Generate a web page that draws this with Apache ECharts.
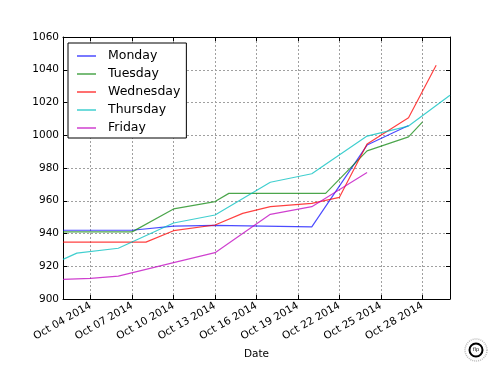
<!DOCTYPE html>
<html>
<head>
<meta charset="utf-8">
<script src="https://cdn.jsdelivr.net/npm/echarts@6/dist/echarts.min.js"></script>
<style>
html,body{margin:0;padding:0;background:#fff;}
#chart{width:500px;height:375px;}
</style>
</head>
<body>
<div id="chart"></div>
<script>
// Series names
const seriesNames = ['Monday', 'Tuesday', 'Wednesday', 'Thursday', 'Friday'];

// Dates and values per series
const mondayDates = ['2014-10-02', '2014-10-07', '2014-10-10', '2014-10-13', '2014-10-20', '2014-10-24', '2014-10-27'];
const mondayValues = [942, 942, 944.5, 945, 944, 994, 1006];

const tuesdayDates = ['2014-10-02', '2014-10-07', '2014-10-10', '2014-10-13', '2014-10-14', '2014-10-21', '2014-10-24', '2014-10-27', '2014-10-28'];
const tuesdayValues = [941, 941, 955, 959.5, 964.5, 964.5, 990.5, 999, 1008];

const wednesdayDates = ['2014-10-02', '2014-10-08', '2014-10-10', '2014-10-13', '2014-10-15', '2014-10-17', '2014-10-20', '2014-10-22', '2014-10-24', '2014-10-27', '2014-10-29'];
const wednesdayValues = [934.7, 934.7, 941.7, 945.2, 952.3, 956.4, 958.4, 962.1, 994.7, 1010.7, 1042.7];

const thursdayDates = ['2014-10-02', '2014-10-03', '2014-10-06', '2014-10-10', '2014-10-13', '2014-10-17', '2014-10-20', '2014-10-24', '2014-10-27', '2014-10-30'];
const thursdayValues = [924.2, 928, 931, 946.4, 951.3, 971.3, 976.5, 999.5, 1005.6, 1024.4];

const fridayDates = ['2014-10-02', '2014-10-04', '2014-10-06', '2014-10-10', '2014-10-13', '2014-10-17', '2014-10-20', '2014-10-24'];
const fridayValues = [912, 912.6, 914, 922.2, 928.3, 951.7, 956.4, 977.2];

// Tick labels (dates)
const xTickDates = ['2014-10-04', '2014-10-07', '2014-10-10', '2014-10-13', '2014-10-16', '2014-10-19', '2014-10-22', '2014-10-25', '2014-10-28'];
const xRange = ['2014-10-02', '2014-10-30'];

const seriesColors = ['rgba(0,0,255,0.7)', 'rgba(0,128,0,0.7)', 'rgba(255,0,0,0.75)', 'rgba(0,191,191,0.75)', 'rgba(191,0,191,0.75)'];

const MONTHS = ['Jan','Feb','Mar','Apr','May','Jun','Jul','Aug','Sep','Oct','Nov','Dec'];
const DAY_MS = 86400000;
const BASE = Date.UTC(2014, 9, 1);
function toDay(s) {
  const p = s.split('-').map(Number);
  return (Date.UTC(p[0], p[1] - 1, p[2]) - BASE) / DAY_MS + 1;
}
function fmtDay(v) {
  const d = new Date(BASE + (v - 1) * DAY_MS);
  const dd = String(d.getUTCDate()).padStart(2, '0');
  return MONTHS[d.getUTCMonth()] + ' ' + dd + ' ' + d.getUTCFullYear();
}

const allDates = [mondayDates, tuesdayDates, wednesdayDates, thursdayDates, fridayDates];
const allValues = [mondayValues, tuesdayValues, wednesdayValues, thursdayValues, fridayValues];
const xTicks = xTickDates.map(toDay);

const FONT = 'DejaVu Sans';
const gridStyle = { show: true, lineStyle: { color: '#a0a0a0', type: [2, 2], width: 1 } };

const chart = echarts.init(document.getElementById('chart'), null, { renderer: 'canvas' });
chart.setOption({
  animation: false,
  backgroundColor: '#fff',
  grid: { left: 63, right: 50, top: 37, bottom: 76 },
  legend: {
    orient: 'vertical',
    left: 68, top: 43,
    data: seriesNames,
    icon: 'rect',
    backgroundColor: '#fff',
    borderColor: '#000',
    borderWidth: 1,
    borderRadius: 0,
    padding: [6, 6, 3, 9],
    itemWidth: 19,
    itemHeight: 1.5,
    itemGap: 4,
    textStyle: { fontFamily: FONT, fontSize: 12.5, color: '#000', lineHeight: 14, padding: [0, 0, 0, 7] }
  },
  graphic: [
    { type: 'circle', shape: { cx: 476, cy: 350, r: 11 }, style: { fill: 'none', stroke: '#bbb', lineWidth: 1.5, lineDash: [1, 1] }, silent: true },
    { type: 'circle', shape: { cx: 476, cy: 350, r: 6.5 }, style: { fill: '#fff', stroke: '#000', lineWidth: 2 }, silent: true },
    { type: 'text', x: 476, y: 350, style: { text: 'flp', fontSize: 5, fontFamily: FONT, fill: '#000', align: 'center', verticalAlign: 'middle' }, silent: true }
  ],
  xAxis: [{
    type: 'value',
    min: toDay(xRange[0]), max: toDay(xRange[1]),
    name: 'Date', nameLocation: 'middle', nameGap: 48,
    nameTextStyle: { fontFamily: FONT, fontSize: 10.5, color: '#000' },
    axisLine: { show: true, onZero: false, lineStyle: { color: '#000', width: 1 } },
    axisTick: { show: true, inside: true, length: 4, customValues: xTicks, lineStyle: { color: '#000' } },
    axisLabel: { customValues: xTicks, formatter: fmtDay, rotate: 30, margin: 6, fontFamily: FONT, fontSize: 10.5, color: '#000' },
    splitLine: gridStyle
  }, {
    type: 'value', position: 'top',
    min: toDay(xRange[0]), max: toDay(xRange[1]),
    axisLine: { show: true, onZero: false, lineStyle: { color: '#000', width: 1 } },
    axisTick: { show: true, inside: true, length: 4, customValues: xTicks, lineStyle: { color: '#000' } },
    axisLabel: { show: false },
    splitLine: { show: false }
  }],
  yAxis: [{
    type: 'value', min: 900, max: 1060, interval: 20,
    axisLine: { show: true, onZero: false, lineStyle: { color: '#000', width: 1 } },
    axisTick: { show: true, inside: true, length: 4, lineStyle: { color: '#000' } },
    axisLabel: { margin: 4, fontFamily: FONT, fontSize: 10.5, color: '#000', formatter: v => String(v) },
    splitLine: gridStyle
  }, {
    type: 'value', position: 'right', min: 900, max: 1060, interval: 20,
    axisLine: { show: true, onZero: false, lineStyle: { color: '#000', width: 1 } },
    axisTick: { show: true, inside: true, length: 4, lineStyle: { color: '#000' } },
    axisLabel: { show: false },
    splitLine: { show: false }
  }],
  series: seriesNames.map((name, i) => ({
    name: name,
    type: 'line',
    xAxisIndex: 0, yAxisIndex: 0,
    symbol: 'none',
    color: seriesColors[i],
    lineStyle: { width: 1.2, color: seriesColors[i] },
    data: allDates[i].map((d, j) => [toDay(d), allValues[i][j]])
  }))
});
</script>
</body>
</html>
